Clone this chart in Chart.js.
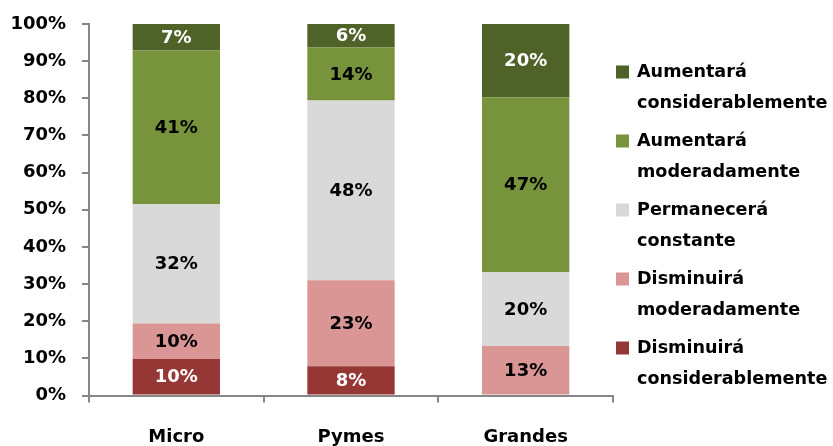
<!DOCTYPE html>
<html>
<head>
<meta charset="utf-8">
<script src="https://cdn.jsdelivr.net/npm/chart.js@4/dist/chart.umd.min.js"></script>
<style>
  html, body { margin: 0; padding: 0; background: #fff; }
  #wrap { width: 833px; height: 446px; position: relative; }
</style>
</head>
<body>
<div id="wrap"><canvas id="c" width="833" height="446"></canvas></div>
<script>
const categories = ['Micro', 'Pymes', 'Grandes'];
const seriesNames = [
  ['Disminuirá', 'considerablemente'],
  ['Disminuirá', 'moderadamente'],
  ['Permanecerá', 'constante'],
  ['Aumentará', 'moderadamente'],
  ['Aumentará', 'considerablemente']
];
const disminuiraConsiderablemente = [9.8, 7.9, 0];
const disminuiraModeradamente   = [9.6, 23.1, 13.3];
const permaneceraConstante      = [32.1, 48.4, 19.9];
const aumentaraModeradamente    = [41.4, 14.3, 47.1];
const aumentaraConsiderablemente = [7.1, 6.3, 19.7];
const yTicks = [0, 10, 20, 30, 40, 50, 60, 70, 80, 90, 100];

const colors = ['#953735', '#D99694', '#D9D9D9', '#77933C', '#4F6228'];
const labelColors = ['#ffffff', '#000000', '#000000', '#000000', '#ffffff'];
const seriesValues = [disminuiraConsiderablemente, disminuiraModeradamente, permaneceraConstante, aumentaraModeradamente, aumentaraConsiderablemente];

const FONT = "'DejaVu Sans', sans-serif";

const datasets = seriesValues.map((vals, i) => ({
  label: seriesNames[i].join(' '),
  data: vals,
  backgroundColor: colors[i],
  borderWidth: 0,
  barPercentage: 0.5,
  categoryPercentage: 1.0
}));

const valueLabels = {
  id: 'valueLabels',
  afterDatasetsDraw(chart) {
    const ctx = chart.ctx;
    ctx.save();
    ctx.font = 'bold 18px ' + FONT;
    ctx.textAlign = 'center';
    ctx.textBaseline = 'middle';
    chart.data.datasets.forEach((ds, di) => {
      const meta = chart.getDatasetMeta(di);
      meta.data.forEach((bar, i) => {
        const v = ds.data[i];
        if (!v) return;
        const p = bar.getProps(['x', 'y', 'base'], true);
        ctx.fillStyle = labelColors[di];
        ctx.fillText(Math.round(v) + '%', p.x, (p.y + p.base) / 2 + 1);
      });
    });
    ctx.restore();
  }
};

const customLegend = {
  id: 'customLegend',
  afterDraw(chart) {
    const ctx = chart.ctx;
    ctx.save();
    ctx.font = 'bold 17.6px ' + FONT;
    ctx.textBaseline = 'middle';
    ctx.textAlign = 'left';
    const order = [4, 3, 2, 1, 0];
    order.forEach((di, k) => {
      const y0 = 72 + k * 69;
      ctx.fillStyle = colors[di];
      ctx.fillRect(616, y0 - 6.5, 13, 13);
      ctx.fillStyle = '#000';
      seriesNames[di].forEach((line, li) => {
        ctx.fillText(line, 637, y0 + li * 31);
      });
    });
    ctx.restore();
  }
};

new Chart(document.getElementById('c'), {
  type: 'bar',
  data: { labels: categories, datasets },
  options: {
    responsive: false,
    animation: false,
    layout: { padding: { top: 24, right: 220, left: 0, bottom: 0 } },
    plugins: { legend: { display: false }, tooltip: { enabled: false } },
    scales: {
      x: {
        stacked: true,
        offset: true,
        grid: { display: true, offset: true, drawOnChartArea: false, drawTicks: true, tickLength: 7, color: '#868686', lineWidth: 2 },
        border: { display: true, color: '#868686', width: 2 },
        ticks: { color: '#000', font: { family: FONT, size: 18, weight: 'bold' }, padding: 24 },
        afterFit(scale) { scale.height = 50.5; }
      },
      y: {
        stacked: true,
        min: 0,
        max: 100,
        afterBuildTicks(scale) { scale.ticks = yTicks.map(v => ({ value: v })); },
        grid: { display: true, drawOnChartArea: false, drawTicks: true, tickLength: 7, color: '#868686', lineWidth: 2 },
        border: { display: true, color: '#868686', width: 2 },
        ticks: { color: '#000', font: { family: FONT, size: 18, weight: 'bold' }, padding: 16, callback: v => v + '%' },
        afterFit(scale) { scale.width = 89; scale.paddingTop = 0; scale.paddingBottom = 0; }
      }
    }
  },
  plugins: [valueLabels, customLegend]
});
</script>
</body>
</html>
